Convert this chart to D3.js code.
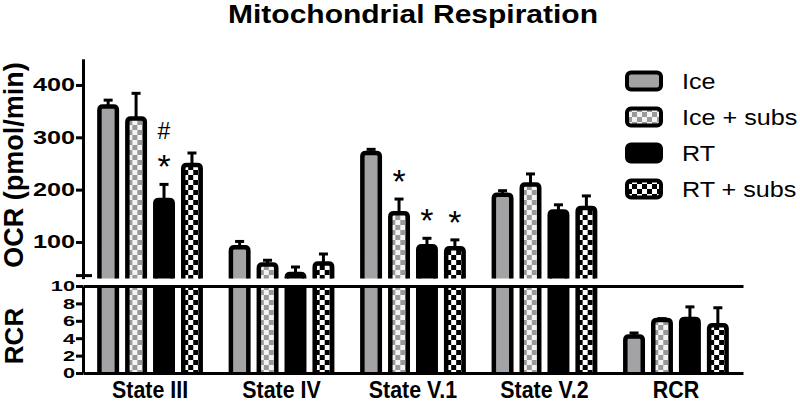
<!DOCTYPE html>
<html>
<head>
<meta charset="utf-8">
<script src="https://cdn.jsdelivr.net/npm/d3@7"></script>
<style>
  body { margin: 0; background: #fff; }
  svg { display: block; font-family: "Liberation Sans", Arial, sans-serif; }
</style>
</head>
<body>
<svg id="chart" width="800" height="408"></svg>
<script>
// values
const groups = ["State III", "State IV", "State V.1", "State V.2", "RCR"]
const series = ["Ice", "Ice + subs", "RT", "RT + subs"]
const ice        = [359, 90, 270, 190, 4.2]
const iceErr     = [12, 11, 7, 8, 0.4]
const iceSubs    = [336, 57, 155, 210, 6.1]
const iceSubsErr = [48, 8, 27, 20, 0.15]
const rt         = [180, 39, 92, 158, 6.2]
const rtErr      = [30, 13, 15, 13, 1.4]
const rtSubs     = [247, 59, 88, 165, 5.5]
const rtSubsErr  = [23, 18, 16, 23, 2.0]
const ocrTicks = [100, 200, 300, 400]
const rcrTicks = [0, 2, 4, 6, 8, 10]
// [group, series, symbol, stack level]
const marks = [
  ["State III", "RT", "*", 0],
  ["State III", "RT", "#", 1],
  ["State V.1", "Ice + subs", "*", 0],
  ["State V.1", "RT", "*", 0],
  ["State V.1", "RT + subs", "*", 0]
]

const allVals = [ice, iceSubs, rt, rtSubs]
const allErrs = [iceErr, iceSubsErr, rtErr, rtSubsErr]

let rows = []
groups.forEach((g, gi) => {
  series.forEach((s, si) => {
    rows.push({group: g, series: s, value: allVals[si][gi], err: allErrs[si][gi]})
  })
})

const svg = d3.select("#chart")
const defs = svg.append("defs")

function checker(id, dark, light) {
  let p = defs.append("pattern")
    .attr("id", id)
    .attr("patternUnits", "userSpaceOnUse")
    .attr("width", 10).attr("height", 10)
  p.append("rect").attr("width", 10).attr("height", 10).attr("fill", light)
  p.append("rect").attr("width", 5).attr("height", 5).attr("fill", dark)
  p.append("rect").attr("x", 5).attr("y", 5).attr("width", 5).attr("height", 5).attr("fill", dark)
}
checker("iceSubsPat", "#999999", "#f4f4f4")
checker("rtSubsPat", "#000000", "#ffffff")

const fills = {
  "Ice": "#a3a3a6",
  "Ice + subs": "url(#iceSubsPat)",
  "RT": "#000000",
  "RT + subs": "url(#rtSubsPat)"
}

// scales
const yTop = d3.scaleLinear().domain([30, 450]).range([278.6, 58.8])
const yBot = d3.scaleLinear().domain([0, 10]).range([373, 286])
const x = d3.scaleBand().domain(groups).range([83, 743]).paddingInner(0.15).paddingOuter(0.085)
const xs = d3.scaleBand().domain(series).range([0, x.bandwidth()]).paddingInner(0.375).paddingOuter(0.1875)
const axisX = 83

// stretch text horizontally like the original picture
function stretch(sel, f) {
  sel.each(function() {
    let w = this.getComputedTextLength()
    this.setAttribute("textLength", w * f)
    this.setAttribute("lengthAdjust", "spacingAndGlyphs")
  })
}

function barPath(x0, w, yt, yb, r) {
  return `M${x0},${yb}V${yt + r}Q${x0},${yt} ${x0 + r},${yt}H${x0 + w - r}Q${x0 + w},${yt} ${x0 + w},${yt + r}V${yb}`
}

function drawPanel(id, yScale, clipTop, clipBottom, baseY) {
  defs.append("clipPath").attr("id", id)
    .append("rect")
    .attr("x", axisX).attr("y", clipTop)
    .attr("width", 700).attr("height", clipBottom - clipTop)
  const g = svg.append("g").attr("clip-path", `url(#${id})`)
  const bars = g.selectAll("g.bar")
    .data(rows)
    .enter()
    .append("g")
    .attr("class", "bar")
    .attr("transform", d => `translate(${x(d.group) + xs(d.series)},0)`)
  bars.append("path")
    .attr("d", d => barPath(0, xs.bandwidth(), yScale(d.value), baseY, 3.5))
    .attr("fill", d => fills[d.series])
    .attr("stroke", "#000")
    .attr("stroke-width", 4.5)
  // error bars (upper only)
  bars.append("line")
    .attr("x1", xs.bandwidth() / 2).attr("x2", xs.bandwidth() / 2)
    .attr("y1", d => yScale(d.value)).attr("y2", d => yScale(d.value + d.err))
    .attr("stroke", "#000").attr("stroke-width", 3)
  bars.append("line")
    .attr("x1", xs.bandwidth() / 2 - 4.5).attr("x2", xs.bandwidth() / 2 + 4.5)
    .attr("y1", d => yScale(d.value + d.err)).attr("y2", d => yScale(d.value + d.err))
    .attr("stroke", "#000").attr("stroke-width", 3)
}

drawPanel("clipTop", yTop, 0, yTop.range()[0], yTop.range()[0] + 10)
drawPanel("clipBot", yBot, yBot(10), yBot(0), yBot(0))

// axes
function styleAxis(g, fontSize) {
  g.select(".domain").attr("stroke-width", 3)
  g.selectAll(".tick line").attr("stroke-width", 3)
  g.selectAll(".tick text")
    .attr("font-size", fontSize)
    .attr("font-weight", "bold")
    .attr("font-family", "Liberation Sans, Arial, sans-serif")
    .attr("fill", "#000")
}

const gTop = svg.append("g")
  .attr("transform", `translate(${axisX},0)`)
  .call(d3.axisLeft(yTop).tickValues(ocrTicks).tickSize(7).tickSizeOuter(0).tickPadding(1))
styleAxis(gTop, 18)
stretch(gTop.selectAll(".tick text"), 1.4)

// axis break mark
svg.append("line")
  .attr("x1", axisX - 7).attr("x2", axisX + 9)
  .attr("y1", yTop.range()[0] - 3).attr("y2", yTop.range()[0] - 3)
  .attr("stroke", "#000").attr("stroke-width", 3)

const gBot = svg.append("g")
  .attr("transform", `translate(${axisX},0)`)
  .call(d3.axisLeft(yBot).tickValues(rcrTicks).tickSize(7).tickSizeOuter(0).tickPadding(1))
styleAxis(gBot, 15.5)
stretch(gBot.selectAll(".tick text"), 1.4)

const gTopLine = svg.append("g")
  .attr("transform", `translate(0,${yBot(10)})`)
  .call(d3.axisTop(x).tickSize(0).tickSizeOuter(0).tickFormat(""))
gTopLine.select(".domain").attr("stroke-width", 3)

const gX = svg.append("g")
  .attr("transform", `translate(0,${yBot(0)})`)
  .call(d3.axisBottom(x).tickSize(0).tickSizeOuter(0).tickPadding(9))
styleAxis(gX, 23)
stretch(gX.selectAll(".tick text"), 0.93)

// significance marks
marks.forEach(m => {
  let d = rows.find(r => r.group === m[0] && r.series === m[1])
  let cx = x(d.group) + xs(d.series) + xs.bandwidth() / 2
  let cy = yTop(d.value + d.err) - 26 - m[3] * 27
  svg.append("text")
    .attr("x", cx)
    .attr("y", m[2] === "*" ? cy + 20 : cy + 8)
    .attr("text-anchor", "middle")
    .attr("font-size", m[2] === "*" ? 34 : 23)
    .text(m[2])
})

// axis titles
svg.append("text")
  .attr("transform", "translate(22.5,165) rotate(-90)")
  .attr("text-anchor", "middle")
  .attr("font-weight", "bold")
  .attr("font-size", 27)
  .text("OCR (pmol/min)")

svg.append("text")
  .attr("transform", "translate(22.5,336) rotate(-90)")
  .attr("text-anchor", "middle")
  .attr("font-weight", "bold")
  .attr("font-size", 26)
  .text("RCR")

const title = svg.append("text")
  .attr("x", 413).attr("y", 23)
  .attr("text-anchor", "middle")
  .attr("font-weight", "bold")
  .attr("font-size", 25.5)
  .attr("textLength", 370)
  .attr("lengthAdjust", "spacingAndGlyphs")
  .text("Mitochondrial Respiration")

// legend
const legend = svg.append("g")
const items = legend.selectAll("g")
  .data(series)
  .enter()
  .append("g")
  .attr("transform", (d, i) => `translate(627,${81 + i * 36})`)
items.append("rect")
  .attr("x", 0).attr("y", -8.5)
  .attr("width", 34).attr("height", 17)
  .attr("rx", 4)
  .attr("fill", d => fills[d])
  .attr("stroke", "#000")
  .attr("stroke-width", 4)
const legText = items.append("text")
  .attr("x", 55).attr("dy", "0.36em")
  .attr("font-size", 21.5)
  .text(d => d)
stretch(legText, 1.17)
</script>
</body>
</html>
